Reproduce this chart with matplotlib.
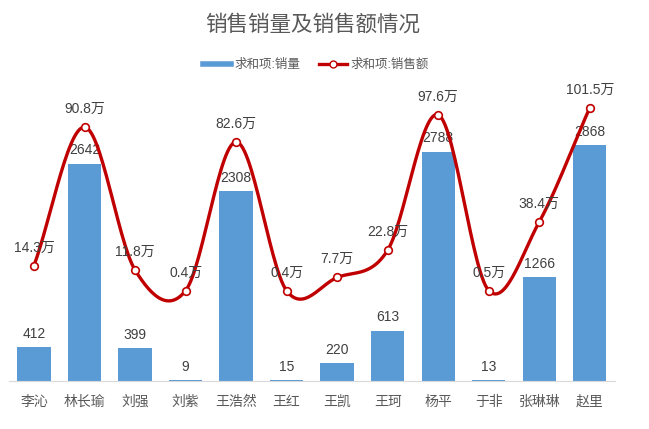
import numpy as np
import matplotlib
matplotlib.use("Agg")
import matplotlib.pyplot as plt
from matplotlib.lines import Line2D

plt.rcParams['font.family'] = ['Liberation Sans', 'Noto Sans CJK SC']

# ── 数据 ──────────────────────────────────────────────────────────────────────
names = ["李沁", "林长瑜", "刘强", "刘紫", "王浩然", "王红", "王凯", "王珂",
         "杨平", "于非", "张琳琳", "赵里"]
qty = [412, 2642, 399, 9, 2308, 15, 220, 613, 2788, 13, 1266, 2868]
amount = [14.3, 90.8, 11.8, 0.4, 82.6, 0.4, 7.7, 22.8, 97.6, 0.5, 38.4, 101.5]  # 万

BAR_C = "#5B9BD5"
LINE_C = "#C00000"
TXT_C = "#404040"
CJK = ['Noto Sans CJK SC', 'DejaVu Sans']


def smooth(xs, ys, n=30):
    """Catmull-Rom 平滑曲线（类似 Excel 平滑线）"""
    xs = np.asarray(xs, float)
    ys = np.asarray(ys, float)
    px = np.concatenate([[2 * xs[0] - xs[1]], xs, [2 * xs[-1] - xs[-2]]])
    py = np.concatenate([[2 * ys[0] - ys[1]], ys, [2 * ys[-1] - ys[-2]]])
    ox, oy = [], []
    t = np.linspace(0, 1, n, endpoint=False)
    for i in range(1, len(px) - 2):
        for p, o in ((px, ox), (py, oy)):
            p0, p1, p2, p3 = p[i - 1], p[i], p[i + 1], p[i + 2]
            o.extend(0.5 * (2 * p1 + (-p0 + p2) * t
                            + (2 * p0 - 5 * p1 + 4 * p2 - p3) * t ** 2
                            + (-p0 + 3 * p1 - 3 * p2 + p3) * t ** 3))
    ox.append(xs[-1])
    oy.append(ys[-1])
    return np.array(ox), np.array(oy)


W, H = 649, 429
fig = plt.figure(figsize=(W / 100, H / 100), dpi=100)
x0, x1, yb, yt = 8.75, 615, 381, 90
ax = fig.add_axes([x0 / W, 1 - yb / H, (x1 - x0) / W, (yb - yt) / H])
ax2 = ax.twinx()

x = np.arange(len(names))
ax.bar(x, qty, width=0.66, color=BAR_C, zorder=1)
ax.set_xlim(-0.5, len(names) - 0.5)
ax.set_ylim(0, 3536)

for xi, v in zip(x, qty):
    ax.annotate(f"{v}", (xi, v), xytext=(0, 4.5), textcoords="offset points",
                ha="center", va="bottom", fontsize=10, color=TXT_C, zorder=5)

sx, sy = smooth(x, amount)
ax2.plot(sx, sy, color=LINE_C, lw=2.4, zorder=3, solid_capstyle="round")
ax2.plot(x, amount, "o", ms=5.5, mfc="white", mec=LINE_C, mew=1.2, zorder=4)
ax2.set_ylim(-49.5, 111.3)
for xi, v in zip(x, amount):
    ax2.annotate(f"{v}万", (xi, v), xytext=(0, 8), textcoords="offset points",
                 ha="center", va="bottom", fontsize=10, color=TXT_C, zorder=5)

for a in (ax, ax2):
    a.set_yticks([])
    for s in a.spines.values():
        s.set_visible(False)
ax.spines["bottom"].set_visible(True)
ax.spines["bottom"].set_color("#D9D9D9")
ax.set_xticks(x)
ax.set_xticklabels(names, fontsize=10, color="#595959", family=CJK)
ax.tick_params(axis="x", length=0, pad=10)

fig.text(313 / W, 1 - 25 / H, "销售销量及销售额情况", ha="center", va="center",
         fontsize=15.5, color="#595959", family=CJK)

handles = [Line2D([0], [0], color=BAR_C, lw=4),
           Line2D([0], [0], color=LINE_C, lw=2.4, marker="o", ms=5,
                  mfc="white", mec=LINE_C)]
fig.legend(handles, ["求和项:销量", "求和项:销售额"], loc="center",
           bbox_to_anchor=(316 / W, 1 - 65 / H), ncol=2, frameon=False,
           fontsize=9, labelcolor="#595959", handlelength=2.2,
           handletextpad=0.3, columnspacing=1.5)

fig.savefig("out.png", dpi=100)
